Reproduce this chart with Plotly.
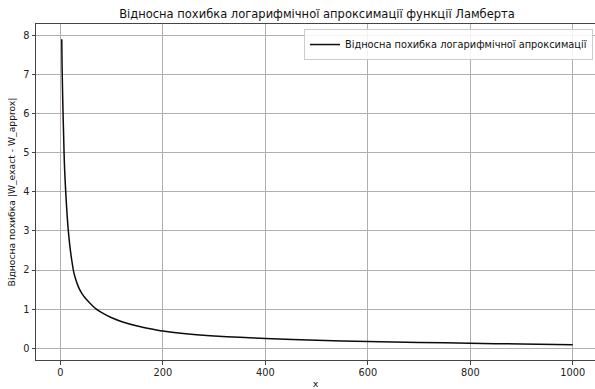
import plotly.graph_objects as go

# Data
x_vals = [2.5, 3, 4, 5, 6, 7, 8, 10, 12, 15, 18, 22, 26, 30, 35, 40, 45, 50, 60, 70, 85,
          100, 120, 150, 175, 200, 250, 300, 350, 400, 500, 600, 700, 800, 900, 1000]
y_vals = [7.9, 7.3, 6.6, 6.0, 5.5, 5.0, 4.6, 4.05, 3.6, 3.05, 2.65, 2.25, 1.94, 1.75, 1.57, 1.44,
          1.34, 1.26, 1.12, 1.0, 0.88, 0.78, 0.68, 0.57, 0.5, 0.44, 0.365, 0.315, 0.28, 0.25,
          0.205, 0.17, 0.148, 0.128, 0.108, 0.09]
x_ticks = [0, 200, 400, 600, 800, 1000]
y_ticks = [0, 1, 2, 3, 4, 5, 6, 7, 8]

title_text = "Відносна похибка логарифмічної апроксимації функції Ламберта"
legend_text = "Відносна похибка логарифмічної апроксимації"
y_title = "Відносна похибка |W_exact - W_approx|"
x_title = "x"

FONT = "DejaVu Sans"

fig = go.Figure()
fig.add_trace(go.Scatter(
    x=x_vals, y=y_vals, mode="lines", name=legend_text,
    line=dict(color="#120812", width=1.5, shape="spline", smoothing=0.8),
))

axis_common = dict(
    showgrid=True, gridcolor="#b0b0b0", gridwidth=1,
    showline=True, linecolor="#444444", linewidth=1,
    ticks="outside", ticklen=3.5, tickcolor="#444444", tickwidth=1,
    tickfont=dict(family=FONT, size=9.8, color="#222222"),
    zeroline=False,
)

fig.update_layout(
    width=595, height=389,
    margin=dict(l=36, r=0, t=24, b=29, pad=0),
    paper_bgcolor="white", plot_bgcolor="white",
    title=dict(text=title_text, x=(317) / 595, xanchor="center", y=0.965, yanchor="middle",
               font=dict(family=FONT, size=11.5, color="#111111")),
    showlegend=True,
    legend=dict(x=0.9964, xanchor="right", y=0.985, yanchor="top",
                bgcolor="rgba(255,255,255,0.85)", bordercolor="#cccccc", borderwidth=1,
                font=dict(family=FONT, size=9.8, color="#111111"),
                itemwidth=30, tracegroupgap=0),
    xaxis=dict(range=[-47.8, 1043.5], tickvals=x_ticks, mirror=True,
               title=dict(text=x_title, standoff=3, font=dict(family=FONT, size=9.5, color="#111111")),
               **axis_common),
    yaxis=dict(range=[-0.3, 8.29], tickvals=y_ticks, mirror=False,
               title=dict(text=y_title, standoff=6, font=dict(family=FONT, size=9.2, color="#111111")),
               **axis_common),
)

fig.write_html("out.html")
